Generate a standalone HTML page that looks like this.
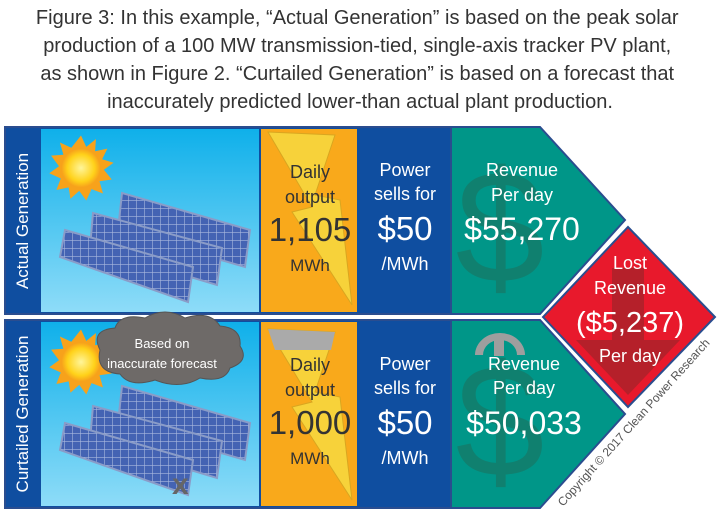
<!DOCTYPE html>
<html><head><meta charset="utf-8"><style>
body{margin:0;background:#fff;}
svg{display:block;font-family:"Liberation Sans","DejaVu Sans",sans-serif;}
</style></head><body>
<svg width="720" height="519" viewBox="0 0 720 519" xmlns="http://www.w3.org/2000/svg">
<defs>
<linearGradient id="sky" x1="0" y1="0" x2="0" y2="1"><stop offset="0" stop-color="#0fb0ea"/><stop offset="1" stop-color="#8edcf8"/></linearGradient>
<radialGradient id="sun"><stop offset="0" stop-color="#fff59a"/><stop offset="0.7" stop-color="#ffd21a"/><stop offset="1" stop-color="#f7a21b"/></radialGradient>
<pattern id="grid" width="8" height="8" patternUnits="userSpaceOnUse"><rect width="8" height="8" fill="#4463b3"/><path d="M0 0H8M0 0V8" stroke="#a9b8de" stroke-width="1.2"/></pattern>
<g id="panels">
<polygon points="122,193 250,230 245,267 118,230" fill="url(#grid)" stroke="#8a9cc8" stroke-width="2"/>
<polygon points="93,213 222,248 217,285 90,247" fill="url(#grid)" stroke="#8a9cc8" stroke-width="2"/>
<polygon points="65,230 193,267 188,302 60,257" fill="url(#grid)" stroke="#8a9cc8" stroke-width="2"/>
</g>
<g id="sunG" transform="scale(0.88)">
<polygon points="0,-37 6,-24 17,-33 16,-19 30,-22 24,-10 37,-6 26,2 35,13 21,15 25,29 12,24 6,37 -2,26 -12,35 -14,22 -28,25 -23,12 -36,6 -25,-2 -34,-14 -20,-15 -24,-29 -11,-23 " fill="#f7a21b"/>
<circle r="22" fill="url(#sun)"/>
</g>
</defs>
<text font-size="20" fill="#333" text-anchor="middle">
<tspan x="360" y="24">Figure 3: In this example, “Actual Generation” is based on the peak solar</tspan>
<tspan x="360" y="52">production of a 100 MW transmission-tied, single-axis tracker PV plant,</tspan>
<tspan x="360" y="80">as shown in Figure 2. “Curtailed Generation” is based on a forecast that</tspan>
<tspan x="360" y="108">inaccurately predicted lower-than actual plant production.</tspan>
</text>

<!-- Row 1 -->
<polygon points="450,127 540,127 625,220 540,314 450,314" fill="#009688" stroke="#2a4d8f" stroke-width="2"/>
<rect x="5" y="127" width="446" height="187" fill="#0f4ea0" stroke="#2a4d8f" stroke-width="2"/>
<rect x="41" y="129" width="218" height="183" fill="url(#sky)"/>
<rect x="261" y="129" width="96" height="183" fill="#f9a91b"/>
<polygon points="268,132 335,135 315,195 340,200 352,305 292,212 312,207" fill="#f7d23a" stroke="#d9a620" stroke-width="1"/>
<use href="#sunG" x="81" y="168"/>
<use href="#panels"/>
<text x="500" y="282" font-size="160" fill="#10806f" text-anchor="middle">$</text>

<!-- Row 2 -->
<polygon points="450,320 540,320 625,414 540,508 450,508" fill="#009688" stroke="#2a4d8f" stroke-width="2"/>
<rect x="5" y="320" width="446" height="188" fill="#0f4ea0" stroke="#2a4d8f" stroke-width="2"/>
<rect x="41" y="322" width="218" height="184" fill="url(#sky)"/>
<rect x="261" y="322" width="96" height="184" fill="#f9a91b"/>
<polygon points="268,329 335,332 315,392 340,397 352,500 292,407 312,402" fill="#f7d23a" stroke="#d9a620" stroke-width="1"/>
<polygon points="268,329 335,332 331,350 275,350" fill="#aaa"/>
<use href="#sunG" x="81" y="362"/>
<use href="#panels" y="193"/>
<text x="172" y="494" font-size="30" fill="#666" font-weight="bold">x</text>
<path d="M100,350 q-10,-20 15,-22 q5,-15 30,-10 q20,-12 40,0 q25,-8 35,8 q22,2 20,20 q10,15 -10,22 q-5,15 -30,10 q-20,12 -45,2 q-25,8 -35,-6 q-25,-2 -20,-24z" fill="#6e6a68" stroke="#555" stroke-width="1"/>
<text x="162" y="348" font-size="13" fill="#fff" text-anchor="middle">Based on</text>
<text x="162" y="368" font-size="13" fill="#fff" text-anchor="middle">inaccurate forecast</text>
<text x="500" y="476" font-size="160" fill="#10806f" text-anchor="middle">$</text>
<path d="M475,355 a25,22 0 0 1 50,0 l-8,0 a17,15 0 0 0 -34,0z" fill="#9e9e9e"/>
<rect x="494" y="334" width="10" height="22" fill="#9e9e9e"/>

<!-- Red diamond -->
<polygon points="543,317 628,227 715,317 628,407" fill="#e8192c" stroke="#2a4d8f" stroke-width="2"/>
<polygon points="612,268 644,268 644,340 680,340 628,395 576,340 612,340" fill="#b5202a"/>

<!-- Labels -->
<g fill="#fff" font-size="17" text-anchor="middle">
<text transform="translate(28,221) rotate(-90)">Actual Generation</text>
<text transform="translate(28,414) rotate(-90)">Curtailed Generation</text>
</g>
<g fill="#333" text-anchor="middle">
<text x="310" y="178" font-size="18">Daily</text>
<text x="310" y="203" font-size="18">output</text>
<text x="310" y="241" font-size="33">1,105</text>
<text x="310" y="271" font-size="17">MWh</text>
<text x="310" y="371" font-size="18">Daily</text>
<text x="310" y="396" font-size="18">output</text>
<text x="310" y="434" font-size="33">1,000</text>
<text x="310" y="464" font-size="17">MWh</text>
</g>
<g fill="#fff" text-anchor="middle">
<text x="405" y="176" font-size="18">Power</text>
<text x="405" y="200" font-size="18">sells for</text>
<text x="405" y="240" font-size="33">$50</text>
<text x="405" y="270" font-size="18">/MWh</text>
<text x="405" y="370" font-size="18">Power</text>
<text x="405" y="394" font-size="18">sells for</text>
<text x="405" y="434" font-size="33">$50</text>
<text x="405" y="464" font-size="18">/MWh</text>
<text x="522" y="176" font-size="18">Revenue</text>
<text x="522" y="201" font-size="18">Per day</text>
<text x="522" y="240" font-size="32">$55,270</text>
<text x="524" y="370" font-size="18">Revenue</text>
<text x="524" y="394" font-size="18">Per day</text>
<text x="524" y="434" font-size="32">$50,033</text>
<text x="630" y="269" font-size="18">Lost</text>
<text x="630" y="294" font-size="18">Revenue</text>
<text x="630" y="332" font-size="29">($5,237)</text>
<text x="630" y="362" font-size="18">Per day</text>
</g>
<text transform="translate(563,507) rotate(-48)" font-size="12" fill="#555">Copyright © 2017 Clean Power Research</text>
</svg>
</body></html>
